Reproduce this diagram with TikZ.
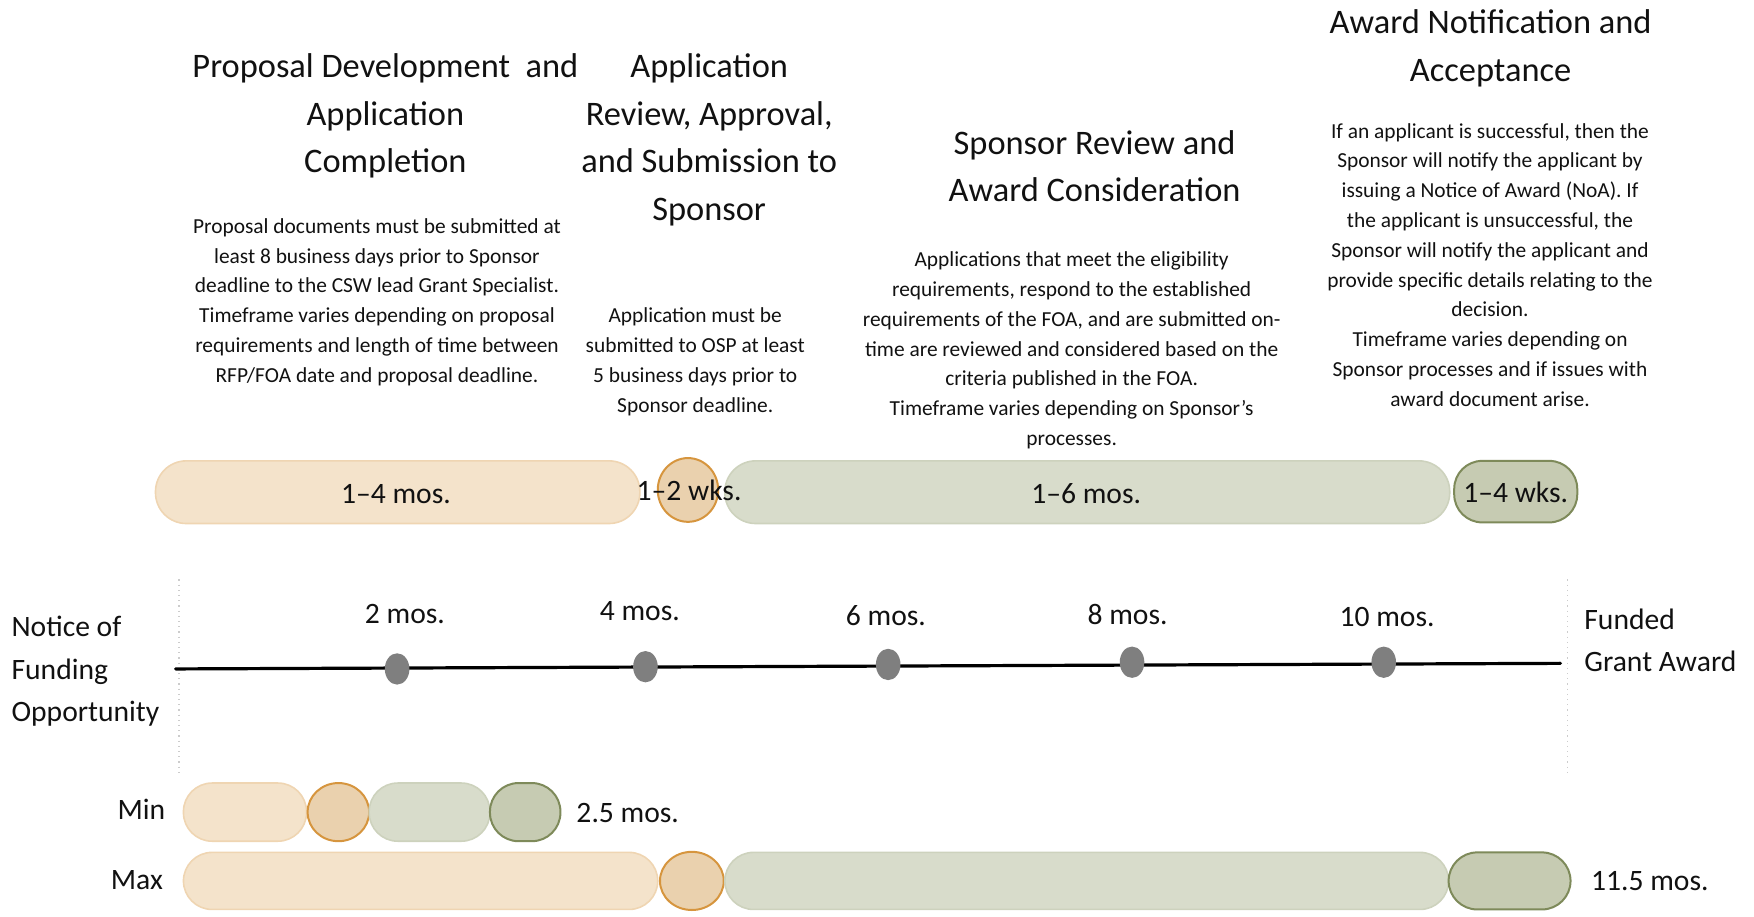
\documentclass[tikz,border=0pt]{standalone}
\usepackage{fontspec}
\setmainfont{Carlito}
\definecolor{peachF}{HTML}{F4E3CB}
\definecolor{peachD}{HTML}{EFD5B2}
\definecolor{orngF}{HTML}{EAD1AE}
\definecolor{orngD}{HTML}{D6953E}
\definecolor{grnF}{HTML}{D8DCCB}
\definecolor{grnD}{HTML}{CDD2BD}
\definecolor{oliveF}{HTML}{C6CBB2}
\definecolor{oliveD}{HTML}{7E8A5A}
\definecolor{dotc}{HTML}{7F7F7F}
\definecolor{txt}{HTML}{111111}
\newcommand{\fl}{\rule{0pt}{1em}}
\begin{document}
\begin{tikzpicture}[x=0.5593pt,y=-0.5593pt,
  ttl/.style={font=\fontsize{17.2}{23.8}\selectfont, align=center, inner sep=0pt, anchor=north, text=txt},
  body/.style={font=\fontsize{10.7}{14.9}\selectfont, align=center, inner sep=0pt, anchor=north, text=txt},
  lbl/.style={font=\fontsize{14.8}{21.25}\selectfont, inner sep=0pt, anchor=base, text=txt},
  side/.style={font=\fontsize{14.8}{21.25}\selectfont, inner sep=0pt, anchor=north west, align=left, text=txt},
  peach/.style={fill=peachF, draw=peachD, line width=0.8pt},
  orng/.style={fill=orngF, draw=orngD, line width=1pt},
  grn/.style={fill=grnF, draw=grnD, line width=0.8pt},
  olive/.style={fill=oliveF, draw=oliveD, line width=1pt},
  guide/.style={draw=black!20, dotted, line width=0.6pt},
  tick/.style={fill=dotc}
]
\useasboundingbox (0,0) rectangle (1568,819);

% titles
\node[ttl] (t1) at (344.5,38.3) {\fl Proposal Development\ \ and\\Application\\Completion};
\node[ttl] (t2) at (634,38.3) {\fl Application\\Review, Approval,\\and Submission to\\Sponsor};
\node[ttl] (t3) at (978.5,106.8) {\fl Sponsor Review and\\Award Consideration};
\node[ttl] (t4) at (1332.5,-1.2) {\fl Award Notification and\\Acceptance};

% descriptions
\node[body] (d1) at (337,189) {\fl Proposal documents must be submitted at\\least 8 business days prior to Sponsor\\deadline to the CSW lead Grant Specialist.\\Timeframe varies depending on proposal\\requirements and length of time between\\RFP/FOA date and proposal deadline.};
\node[body] (d2) at (621.5,269) {\fl Application must be\\submitted to OSP at least\\5 business days prior to\\Sponsor deadline.};
\node[body] (d3) at (958,219) {\fl Applications that meet the eligibility\\requirements, respond to the established\\requirements of the FOA, and are submitted on-\\time are reviewed and considered based on the\\criteria published in the FOA.\\Timeframe varies depending on Sponsor’s\\processes.};
\node[body] (d4) at (1332,104) {\fl If an applicant is successful, then the\\Sponsor will notify the applicant by\\issuing a Notice of Award (NoA). If\\the applicant is unsuccessful, the\\Sponsor will notify the applicant and\\provide specific details relating to the\\decision.\\Timeframe varies depending on\\Sponsor processes and if issues with\\award document arise.};

% top phase bar
\draw[peach, rounded corners=15.4pt] (139,412) rectangle (572,468);
\draw[orng] (615,438) ellipse [x radius=27, y radius=28.5];
\draw[grn, rounded corners=15.4pt] (648,412) rectangle (1296,468);
\draw[olive, rounded corners=14pt] (1300,412) rectangle (1410,467);
\node[lbl] (p1) at (354,450) {1–4 mos.};
\node[lbl] (p2) at (616,447) {1–2 wks.};
\node[lbl] (p3) at (971,450) {1–6 mos.};
\node[lbl] (p4) at (1355,449) {1–4 wks.};

% timeline
\draw[guide] (160,518) -- (160,693);
\draw[guide] (1401,518) -- (1401,693);
\coordinate (tl0) at (157,598);
\coordinate (tl1) at (1395,593);
\draw[line width=1.6pt, line cap=round] (tl0) -- (tl1);
\fill[tick] (355,598) ellipse [x radius=11, y radius=14];
\fill[tick] (577,596) ellipse [x radius=11, y radius=14];
\fill[tick] (794,594) ellipse [x radius=11, y radius=14];
\fill[tick] (1012,592) ellipse [x radius=11, y radius=14];
\fill[tick] (1237,592) ellipse [x radius=11, y radius=14];
\node[lbl] (m2) at (362,557) {2 mos.};
\node[lbl] (m4) at (572,555) {4 mos.};
\node[lbl] (m6) at (792,559) {6 mos.};
\node[lbl] (m8) at (1008,558) {8 mos.};
\node[lbl] (m10) at (1240,560) {10 mos.};
\node[side] (nofo) at (10,542.5) {\fl Notice of\\Funding\\Opportunity};
\node[side] (fga) at (1416,535.5) {\fl Funded\\Grant Award};

% min row
\draw[peach, rounded corners=14.3pt] (164,700) rectangle (274,752);
\draw[orng] (302.5,726) ellipse [x radius=27.5, y radius=26];
\draw[grn, rounded corners=14.3pt] (330,700) rectangle (438,752);
\draw[olive, rounded corners=14.3pt] (438,700) rectangle (501,752);
\node[lbl, anchor=base east] (mn) at (148,733) {Min};
\node[lbl, anchor=base west] (mnv) at (515,735) {2.5 mos.};

% max row
\draw[peach, rounded corners=14.3pt] (164,762) rectangle (588,813);
\draw[orng] (618.5,787.5) ellipse [x radius=28.5, y radius=26];
\draw[grn, rounded corners=14.3pt] (648,762) rectangle (1295,813);
\draw[olive, rounded corners=14.3pt] (1295,762) rectangle (1404,813);
\node[lbl, anchor=base east] (mx) at (146,795) {Max};
\node[lbl, anchor=base west] (mxv) at (1422,796) {11.5 mos.};
\end{tikzpicture}
\end{document}
